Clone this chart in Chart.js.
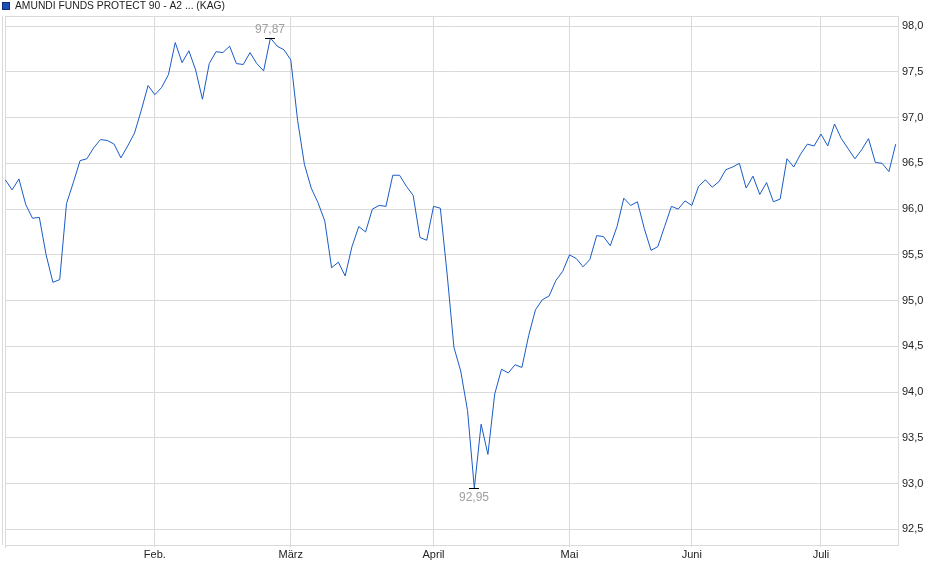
<!DOCTYPE html>
<html>
<head>
<meta charset="utf-8">
<script src="https://cdn.jsdelivr.net/npm/chart.js@4.4.1/dist/chart.umd.min.js"></script>
<style>
    body { margin: 0; background: #fff; }
    .wrap { width: 940px; height: 579px; position: relative; }
</style>
</head>
<body>
<div class="wrap"><canvas id="myChart"></canvas></div>
<script>
const seriesName = 'AMUNDI FUNDS PROTECT 90 - A2 ... (KAG)'
const monthLabels = ['Feb.', 'März', 'April', 'Mai', 'Juni', 'Juli']
const monthStarts = [22, 42, 63, 83, 101, 120]
const yTicks = [92.5, 93.0, 93.5, 94.0, 94.5, 95.0, 95.5, 96.0, 96.5, 97.0, 97.5, 98.0]
const prices = [
    96.32, 96.21, 96.33, 96.05, 95.90, 95.91, 95.50, 95.20, 95.23, 96.06,
    96.29, 96.53, 96.55, 96.67, 96.76, 96.75, 96.71, 96.56, 96.69, 96.83,
    97.08, 97.35, 97.25, 97.33, 97.47, 97.82, 97.60, 97.73, 97.52, 97.20,
    97.59, 97.72, 97.71, 97.78, 97.59, 97.58, 97.71, 97.59, 97.51, 97.87,
    97.78, 97.74, 97.63, 96.97, 96.49, 96.23, 96.07, 95.87, 95.36, 95.42,
    95.27, 95.59, 95.81, 95.75, 96.00, 96.04, 96.03, 96.37, 96.37, 96.25,
    96.15, 95.69, 95.66, 96.03, 96.01, 95.29, 94.49, 94.23, 93.80, 92.95,
    93.65, 93.32, 93.98, 94.25, 94.21, 94.30, 94.27, 94.62, 94.90, 95.01,
    95.05, 95.22, 95.32, 95.50, 95.46, 95.37, 95.45, 95.71, 95.70, 95.60,
    95.81, 96.12, 96.04, 96.08, 95.79, 95.55, 95.59, 95.81, 96.03, 96.00,
    96.09, 96.04, 96.25, 96.32, 96.24, 96.30, 96.43, 96.46, 96.50, 96.23,
    96.36, 96.16, 96.29, 96.08, 96.11, 96.55, 96.46, 96.60, 96.71, 96.69,
    96.82, 96.69, 96.93, 96.77, 96.66, 96.55, 96.65, 96.77, 96.51, 96.50,
    96.41, 96.71
]

const lineColor = '#1a5bc6'
const gridColor = '#dadada'
const fmt = v => v.toFixed(2).replace('.', ',')

// frame, legend and the min / max markers
const extras = {
    id: 'extras',
    beforeDatasetsDraw(chart) {
        const { ctx, chartArea: a } = chart
        ctx.save()
        ctx.strokeStyle = gridColor
        ctx.lineWidth = 1
        ctx.beginPath()
        ctx.moveTo(a.left, a.top + 0.5)
        ctx.lineTo(a.right, a.top + 0.5)
        ctx.moveTo(2.5, a.top)
        ctx.lineTo(2.5, a.bottom)
        ctx.moveTo(5.5, a.top)
        ctx.lineTo(5.5, a.bottom + 3)
        ctx.stroke()
        ctx.restore()
    },
    afterDraw(chart) {
        const { ctx } = chart
        const x = chart.scales.x
        const y = chart.scales.y
        ctx.save()
        // legend
        ctx.fillStyle = '#1c4fb8'
        ctx.fillRect(3, 3, 6, 6)
        ctx.strokeStyle = '#0d2f78'
        ctx.lineWidth = 1
        ctx.strokeRect(2.5, 2.5, 7, 7)
        ctx.fillStyle = '#222'
        ctx.font = '10.3px "Liberation Sans", Arial, sans-serif'
        ctx.textBaseline = 'middle'
        ctx.textAlign = 'left'
        ctx.fillText(seriesName, 15, 6.5)

        const hi = prices.indexOf(Math.max(...prices))
        const lo = prices.indexOf(Math.min(...prices))
        ctx.font = '12px "Liberation Sans", Arial, sans-serif'
        ctx.textAlign = 'center'
        ctx.strokeStyle = '#000'
        const marks = [[hi, -1], [lo, 1]]
        marks.forEach(([i, dir]) => {
            const px = Math.round(x.getPixelForValue(i))
            const py = Math.round(y.getPixelForValue(prices[i])) + 0.5
            ctx.beginPath()
            ctx.moveTo(px - 5, py)
            ctx.lineTo(px + 5, py)
            ctx.stroke()
            ctx.fillStyle = '#a0a0a0'
            ctx.fillText(fmt(prices[i]), px, py + dir * 9)
        })
        ctx.restore()
    }
}

const configuration = () => {
    return {
        type: 'line',
        data: {
            datasets: [
                {
                    label: seriesName,
                    data: prices.map((v, i) => ({ x: i, y: v })),
                    borderColor: lineColor,
                    borderWidth: 1,
                    pointRadius: 0,
                    tension: 0,
                    fill: false
                }
            ]
        },
        options: {
            animation: false,
            responsive: true,
            maintainAspectRatio: false,
            layout: {
                padding: { left: 5, top: 16, right: 0, bottom: 0 }
            },
            scales: {
                x: {
                    type: 'linear',
                    min: -0.05,
                    max: 131.41,
                    afterBuildTicks: axis => {
                        axis.ticks = monthStarts.map(v => ({ value: v }))
                    },
                    afterFit: axis => {
                        axis.height = 34
                    },
                    grid: {
                        color: gridColor,
                        lineWidth: 1,
                        drawTicks: true,
                        tickLength: 2
                    },
                    border: { color: gridColor },
                    ticks: {
                        autoSkip: false,
                        maxRotation: 0,
                        padding: 1,
                        color: '#222',
                        font: { family: '"Liberation Sans", Arial, sans-serif', size: 11 },
                        callback: value => monthLabels[monthStarts.indexOf(value)]
                    }
                },
                y: {
                    position: 'right',
                    min: 92.33,
                    max: 98.11,
                    afterBuildTicks: axis => {
                        axis.ticks = yTicks.map(v => ({ value: v }))
                    },
                    afterFit: axis => {
                        axis.width = 41.5
                    },
                    grid: {
                        color: gridColor,
                        lineWidth: 1,
                        drawTicks: false
                    },
                    border: { color: gridColor },
                    ticks: {
                        padding: 3.5,
                        color: '#222',
                        font: { family: '"Liberation Sans", Arial, sans-serif', size: 11 },
                        callback: value => value.toFixed(1).replace('.', ',')
                    }
                }
            },
            plugins: {
                legend: { display: false },
                tooltip: { enabled: false }
            }
        },
        plugins: [extras]
    }
}

const ctx = document.getElementById('myChart').getContext('2d')
const chart = new Chart(ctx, configuration())
</script>
</body>
</html>
